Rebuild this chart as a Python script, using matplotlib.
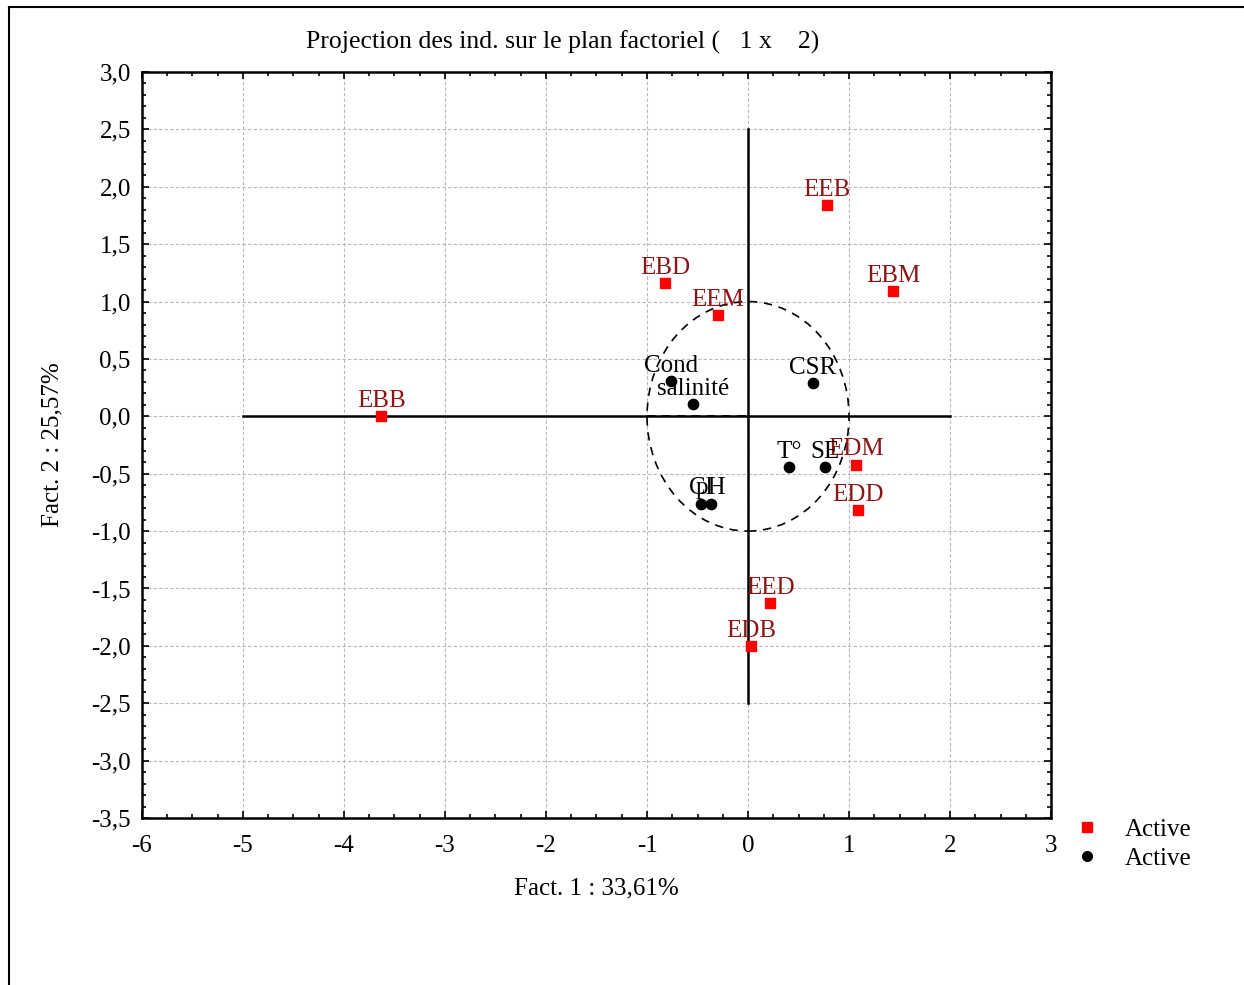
import numpy as np
import matplotlib
matplotlib.use("Agg")
import matplotlib.pyplot as plt
from matplotlib.lines import Line2D
from matplotlib.patches import Ellipse
from matplotlib.ticker import MultipleLocator, FuncFormatter

plt.rcParams['font.family'] = ['Liberation Serif', 'DejaVu Serif']

# Individus (stations)
ind_labels = ["EBB", "EBD", "EEM", "EEB", "EBM", "EDM", "EDD", "EED", "EDB"]
ind_x = [-3.63, -0.82, -0.30, 0.78, 1.44, 1.07, 1.09, 0.22, 0.03]
ind_y = [0.00, 1.16, 0.88, 1.84, 1.09, -0.42, -0.82, -1.63, -2.00]

# Variables
var_labels = ["Cond", "salinité", "CSR", "T°", "SE", "Cl", "pH"]
var_x = [-0.76, -0.54, 0.64, 0.41, 0.76, -0.47, -0.37]
var_y = [0.31, 0.11, 0.29, -0.44, -0.44, -0.76, -0.76]

FS = 18

fig = plt.figure(figsize=(12.44, 9.85), dpi=100)
ax = fig.add_axes([0.1141, 0.1695, 0.7308, 0.7574])

# cadre de la figure (gauche + haut)
fig.add_artist(Line2D([0.0072, 0.0072], [0.0, 0.9929], color="black", lw=1.5, transform=fig.transFigure))
fig.add_artist(Line2D([0.0072, 1.0], [0.9929, 0.9929], color="black", lw=1.5, transform=fig.transFigure))

# axes factoriels
ax.plot([-5, 2], [0, 0], color="black", lw=1.8, zorder=2)
ax.plot([0, 0], [-2.5, 2.5], color="black", lw=1.8, zorder=2)
ax.plot([-1, 0], [0, 0], color="black", lw=1.2, ls=(0, (5, 4)), zorder=2)
ax.add_patch(Ellipse((0, 0), 2, 2, fill=False, ls=(0, (5, 4)), lw=1.2, color="black", zorder=2))

ax.scatter(ind_x, ind_y, marker="s", s=55, color="red", zorder=4)
ax.scatter(var_x, var_y, marker="o", s=55, color="black", zorder=4)

for lab, x, y in zip(ind_labels, ind_x, ind_y):
    ax.annotate(lab, (x, y), xytext=(0, 3), textcoords="offset points",
                ha="center", va="bottom", fontsize=FS, color="#8c1414", zorder=5)
for lab, x, y in zip(var_labels, var_x, var_y):
    ax.annotate(lab, (x, y), xytext=(0, 3), textcoords="offset points",
                ha="center", va="bottom", fontsize=FS, color="black", zorder=5)

ax.set_xlim(-6, 3)
ax.set_ylim(-3.5, 3.0)
ax.xaxis.set_major_locator(MultipleLocator(1))
ax.xaxis.set_minor_locator(MultipleLocator(0.25))
ax.yaxis.set_major_locator(MultipleLocator(0.5))
ax.yaxis.set_minor_locator(MultipleLocator(0.1))
ax.yaxis.set_major_formatter(FuncFormatter(lambda v, p: f"{v:.1f}".replace(".", ",")))
ax.xaxis.set_major_formatter(FuncFormatter(lambda v, p: f"{v:.0f}"))
ax.tick_params(which="both", direction="in", top=True, right=True, labelsize=FS, width=1.2)
ax.tick_params(which="major", length=5)
ax.tick_params(axis="x", which="major", pad=12)
ax.tick_params(axis="y", which="major", pad=8)
ax.tick_params(which="minor", length=3)
for s in ax.spines.values():
    s.set_linewidth(1.8)
ax.grid(True, which="major", ls=(0, (3, 2)), color="#b8b8b8", lw=0.8)
ax.set_axisbelow(True)

fig.text(0.452, 0.9574, "Projection des ind. sur le plan factoriel (   1 x    2)",
         fontsize=18.5, ha="center", va="center")
ax.set_xlabel("Fact. 1 : 33,61%", fontsize=FS, labelpad=15)
ax.set_ylabel("Fact. 2 : 25,57%", fontsize=FS, labelpad=20)

handles = [Line2D([], [], marker="s", ls="none", color="red", markersize=7),
           Line2D([], [], marker="o", ls="none", color="black", markersize=7)]
fig.legend(handles, ["Active", "Active"], loc="upper left", bbox_to_anchor=(0.836, 0.192),
           frameon=False, fontsize=FS, handletextpad=0.5, labelspacing=0.25)

fig.savefig("out.png", dpi=100)
